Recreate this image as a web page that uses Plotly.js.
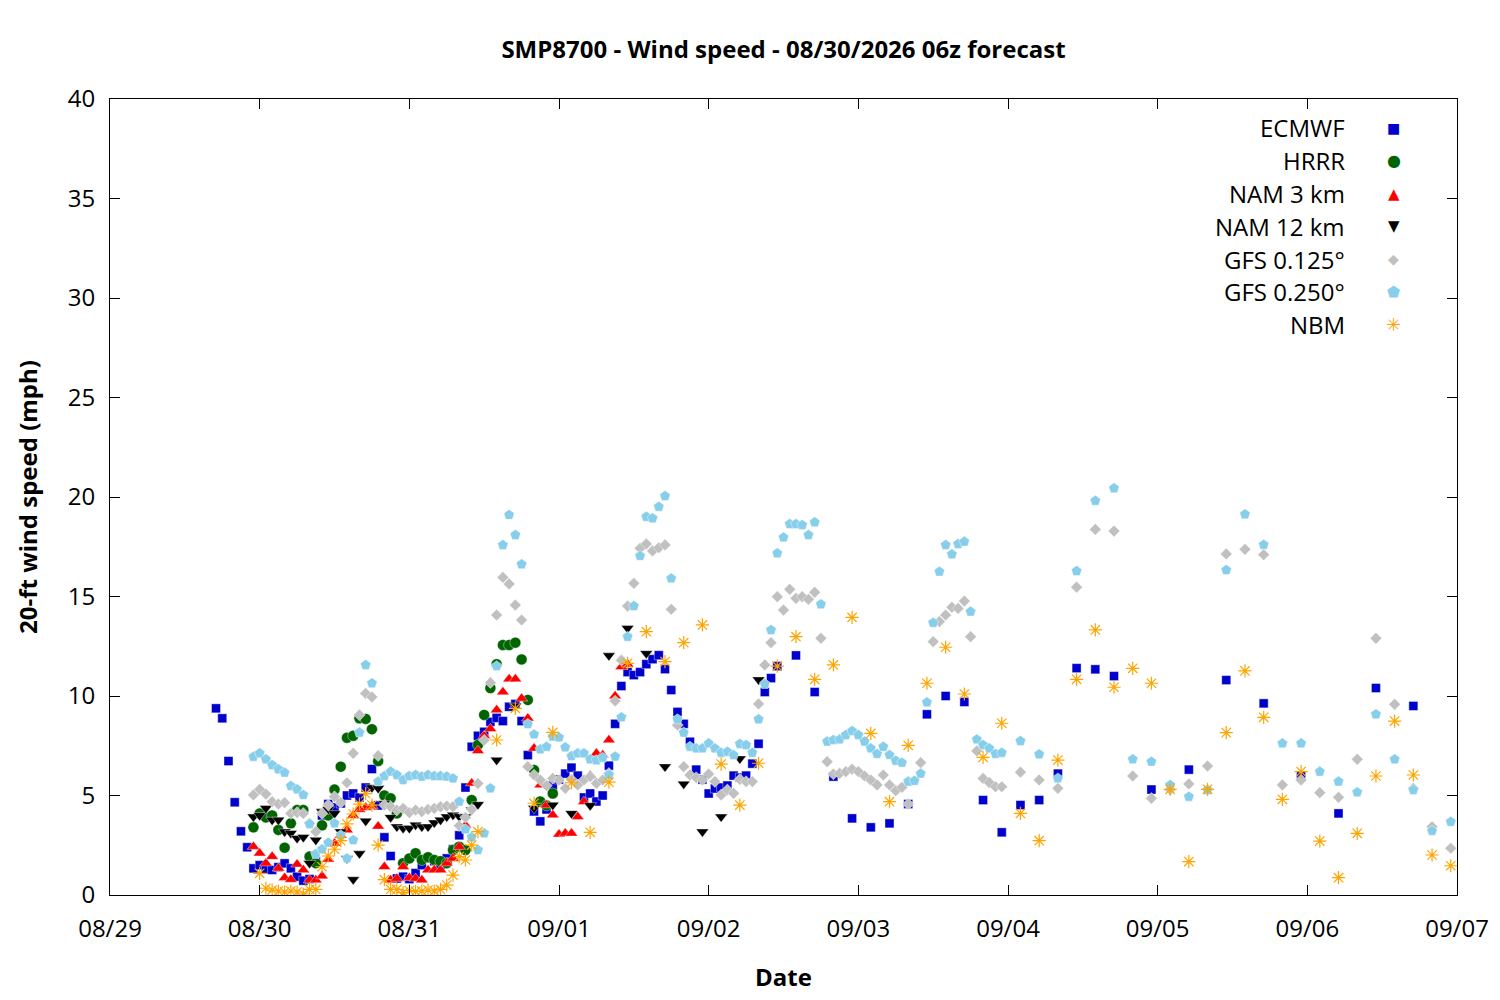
<!DOCTYPE html>
<html>
<head>
<meta charset="utf-8">
<script src="https://cdn.plot.ly/plotly-3.0.1.min.js"></script>
<style>
  body { margin: 0; background: #fff; }
  #graph { width: 1500px; height: 1000px; }
</style>
</head>
<body>
<div id="graph"></div>
<script>
// hours after 08/29 00:00
var dayLabels = ["08/29","08/30","08/31","09/01","09/02","09/03","09/04","09/05","09/06","09/07"]
var dayTicks = [0,24,48,72,96,120,144,168,192,216]

var ecmwfHours = [17,18,19,20,21,22,23,24,25,26,27,28,29,30,31,32,33,34,35,36,37,38,39,40,41,42,43,44,45,46,47,48,49,50,
  51,52,53,54,55,56,57,58,59,60,61,62,63,64,65,66,67,68,69,70,71,72,73,74,75,76,77,78,79,80,81,82,83,84,85,86,87,88,89,90,
  91,92,93,94,95,96,97,98,99,100,101,102,103,104,105,106,107,
  110,113,116,119,122,125,128,131,134,137,140,143,146,149,152,155,158,161,167,173,179,185,191,197,203,209]
var ecmwfSpeed = [9.38,8.88,6.73,4.66,3.2,2.4,1.34,1.5,1.3,1.26,1.4,1.59,1.34,0.92,0.72,0.8,1.7,4.0,4.57,4.4,4.6,5.0,5.1,4.9,
  5.4,6.33,4.5,2.9,1.96,0.83,0.92,0.8,1.1,1.5,1.84,1.7,1.5,1.84,2.3,3.0,5.4,7.45,8.0,8.2,8.7,8.9,8.74,9.46,9.6,8.74,7.03,
  4.2,3.7,4.3,5.5,5.8,6.1,6.4,6.0,4.9,5.1,4.7,5.0,6.5,8.6,10.5,11.2,11.05,11.2,11.6,11.85,12.05,11.35,10.3,9.2,8.6,7.7,
  6.3,5.8,5.1,5.35,5.4,5.5,6.0,5.9,6.0,6.6,7.6,10.2,10.9,11.5,
  12.04,10.2,5.95,3.85,3.4,3.6,4.57,9.08,10.0,9.7,4.77,3.15,4.52,4.77,6.1,11.4,11.34,11.0,5.3,6.3,10.8,9.63,6.0,4.1,10.4,9.5]

var hrrrHours = [23,24,25,26,27,28,29,30,31,32,33,34,35,36,37,38,39,40,41,42,43,44,45,46,47,48,49,50,51,52,53,54,55,56,57,
  58,59,60,61,62,63,64,65,66,67,68,69,70,71]
var hrrrSpeed = [3.4,4.1,3.9,4.0,3.27,2.38,3.6,4.27,4.27,1.93,1.6,3.5,4.0,5.3,6.45,7.9,8.0,8.88,8.85,8.33,6.73,5.0,4.86,4.1,
  1.6,1.84,2.1,1.76,1.9,1.76,1.7,1.6,2.26,2.43,2.26,4.77,7.54,9.05,10.4,11.6,12.56,12.56,12.68,11.84,9.8,6.28,4.7,4.5,5.1]

var nam3Hours = [23,24,25,26,27,28,29,30,31,32,33,34,35,36,37,38,39,40,41,42,43,44,45,46,47,48,49,50,51,52,53,54,55,56,57,
  58,59,60,61,62,63,64,65,66,67,68,69,70,71,72,73,74,75,76,77,78,79,80,81,82,83]
var nam3Speed = [2.43,2.1,1.6,1.93,1.34,0.87,0.78,1.54,1.26,0.75,0.75,0.95,1.8,2.6,3.0,3.27,4.0,4.3,4.4,4.47,3.45,1.42,0.75,
  0.83,1.42,0.87,0.83,0.75,1.26,1.26,1.26,1.6,1.84,2.43,3.5,5.62,7.25,8.0,8.35,9.3,10.2,10.85,10.85,9.88,8.88,7.37,5.53,
  4.52,4.02,3.05,3.1,3.1,3.93,4.69,6.0,7.12,7.03,7.79,10.0,11.47,11.6]

var nam12Hours = [23,24,25,26,27,28,29,30,31,32,33,34,35,36,37,38,39,40,41,42,43,44,45,46,47,48,49,50,51,52,53,54,55,56,57,
  58,59,62,65,68,71,74,77,80,83,86,89,92,95,98,101,104]
var nam12Speed = [3.93,4.0,4.36,3.77,3.77,3.18,3.1,2.85,2.9,1.6,2.76,4.19,4.3,4.1,3.18,1.84,0.78,2.08,3.72,5.4,5.36,4.6,3.9,
  3.43,3.35,3.35,3.52,3.43,3.43,3.63,3.77,3.93,4.02,3.95,3.93,4.27,4.55,6.78,9.5,4.36,4.52,4.1,4.5,12.03,13.4,12.14,6.45,
  5.58,3.18,3.93,6.85,10.82]

var gfs125Hours = [23,24,25,26,27,28,29,30,31,32,33,34,35,36,37,38,39,40,41,42,43,44,45,46,47,48,49,50,51,52,53,54,55,56,
  57,58,59,60,61,62,63,64,65,66,67,68,69,70,71,72,73,74,75,76,77,78,79,80,81,82,83,84,85,86,87,88,89,90,91,92,93,94,95,96,
  97,98,99,100,101,102,103,104,105,106,107,108,109,110,111,112,113,114,115,116,117,118,119,120,121,122,123,124,125,126,127,128,
  130,132,133,134,135,136,137,138,139,140,141,142,143,
  146,149,152,155,158,161,164,167,170,173,176,179,182,185,188,191,194,197,200,203,206,209,212,215]
var gfs125Speed = [5.03,5.31,5.07,4.69,4.57,4.64,4.1,4.14,4.1,3.6,3.18,4.1,4.52,4.94,4.64,5.64,7.12,9.05,10.13,9.95,7.0,4.52,
  4.44,4.27,4.35,4.14,4.27,4.19,4.3,4.35,4.44,4.47,4.44,3.48,3.9,4.3,5.6,7.78,10.67,14.07,15.96,15.63,14.57,13.82,6.45,6.03,
  5.78,5.5,5.86,5.78,5.36,5.8,5.53,5.78,5.95,5.61,5.78,6.11,9.75,11.8,14.52,15.66,17.42,17.64,17.29,17.45,17.59,14.36,8.54,
  6.45,6.03,5.9,5.78,6.08,5.7,5.03,5.28,5.11,5.81,5.7,5.7,9.6,11.56,12.68,14.99,14.32,15.36,14.91,14.99,14.86,15.21,12.9,
  6.7,6.08,6.11,6.2,6.32,6.2,5.98,5.78,5.53,6.03,5.53,5.24,5.41,4.57,
  6.65,12.73,13.74,14.07,14.46,14.4,14.77,12.98,7.24,5.86,5.65,5.44,5.44,
  6.17,5.78,5.36,15.47,18.37,18.29,5.98,4.86,5.3,5.58,6.48,17.14,17.37,17.1,5.53,5.78,5.14,4.91,6.82,12.9,9.58,5.36,3.43,2.35]

var gfs250Hours = [23,24,25,26,27,28,29,30,31,32,33,34,35,36,37,38,39,40,41,42,43,44,45,46,47,48,49,50,51,52,53,54,55,56,
  57,58,59,60,61,62,63,64,65,66,67,68,69,70,71,72,73,74,75,76,77,78,79,80,81,82,83,84,85,86,87,88,89,90,91,92,93,94,95,96,
  97,98,99,100,101,102,103,104,105,106,107,108,109,110,111,112,113,114,115,116,117,118,119,120,121,122,123,124,125,126,127,128,
  129,130,131,132,133,134,135,136,137,138,139,140,141,142,143,
  146,149,152,155,158,161,164,167,170,173,176,179,182,185,188,191,194,197,200,203,206,209,212,215]
var gfs250Speed = [6.95,7.12,6.82,6.53,6.32,6.15,5.48,5.31,5.03,3.57,2.06,2.3,2.63,3.6,3.0,1.84,2.76,8.16,11.56,10.64,5.7,
  5.98,6.2,6.03,5.78,5.98,6.03,5.95,6.03,5.98,5.98,5.95,5.86,4.69,3.3,2.9,2.26,3.1,5.36,11.5,17.59,19.1,18.09,16.62,8.59,
  8.07,7.32,7.45,7.96,7.92,7.42,6.98,7.12,7.12,6.82,6.77,6.9,6.03,6.96,8.93,12.98,14.52,17.04,19.01,18.93,19.51,20.05,
  15.91,8.83,8.16,7.45,7.37,7.37,7.62,7.37,7.15,7.2,7.03,7.59,7.54,7.15,8.83,10.6,13.32,17.17,17.97,18.64,18.64,18.59,
  18.09,18.73,14.61,7.71,7.79,7.82,8.04,8.24,8.04,7.71,7.37,7.09,7.45,7.04,6.75,6.65,5.7,
  5.74,6.1,9.68,13.68,16.25,17.59,17.12,17.64,17.76,14.24,7.82,7.54,7.37,7.09,7.15,
  7.74,7.07,5.86,16.28,19.81,20.44,6.82,6.7,5.53,4.94,5.28,16.33,19.13,17.6,7.62,7.62,6.2,5.7,5.16,9.08,6.82,5.28,3.22,3.68]

var nbmHours = [24,25,26,27,28,29,30,31,32,33,34,35,36,37,38,39,40,41,42,43,44,45,46,47,48,49,50,51,52,53,54,55,56,57,58,59,
  62,65,68,71,74,77,80,83,86,89,92,95,98,101,104,107,110,113,116,119,122,125,128,131,134,137,140,143,146,149,152,155,158,
  161,164,167,170,173,176,179,182,185,188,191,194,197,200,203,206,209,212,215]
var nbmSpeed = [1.09,0.34,0.25,0.2,0.15,0.2,0.15,0.05,0.28,0.28,1.42,1.96,2.3,2.73,3.57,4.07,4.57,5.09,4.52,2.51,0.77,0.28,
  0.28,0.12,0.22,0.18,0.2,0.25,0.2,0.28,0.5,1.0,1.93,1.76,2.51,3.18,
  7.79,9.38,4.61,8.17,5.64,3.15,5.67,11.64,13.23,11.73,12.68,13.57,6.58,4.52,6.62,11.5,12.98,10.84,11.56,13.95,8.12,4.69,
  7.52,10.64,12.45,10.1,6.92,8.63,4.1,2.73,6.78,10.84,13.32,10.44,11.39,10.64,5.31,1.68,5.31,8.16,11.26,8.93,4.81,6.2,
  2.71,0.87,3.1,5.98,8.74,6.03,2.01,1.47]

var models = [
  {name:"ECMWF", x:ecmwfHours, y:ecmwfSpeed, symbol:"square", color:"#0000cc", size:9, key:"\u25A0", ks:14},
  {name:"HRRR", x:hrrrHours, y:hrrrSpeed, symbol:"circle", color:"#006400", size:11, key:"\u25CF", ks:16},
  {name:"NAM 3 km", x:nam3Hours, y:nam3Speed, symbol:"triangle-up", color:"#ff0000", size:11, key:"\u25B2", ks:15},
  {name:"NAM 12 km", x:nam12Hours, y:nam12Speed, symbol:"triangle-down", color:"#000000", size:11, key:"\u25BC", ks:15},
  {name:"GFS 0.125\u00B0", x:gfs125Hours, y:gfs125Speed, symbol:"diamond", color:"#c0c0c0", size:9, key:"\u25C6", ks:14},
  {name:"GFS 0.250\u00B0", x:gfs250Hours, y:gfs250Speed, symbol:"pentagon", color:"#87ceeb", size:11, key:"\u2B1F", ks:15},
  {name:"NBM", x:nbmHours, y:nbmSpeed, symbol:"asterisk-open", color:"#ffa500", size:11, key:"\u2733", ks:18}
]

var font = "Open Sans, Noto Sans, sans-serif"
var graphData = []
var notes = []

for (var i = 0; i < models.length; i++) {
  var m = models[i]
  var mk = {symbol:m.symbol, size:m.size, color:m.color}
  if (m.symbol == "asterisk-open") {
    mk.line = {color:m.color, width:1.2}
  } else {
    mk.line = {color:"#ffffff", width:0.4}
  }
  graphData.push({x:m.x, y:m.y, type:"scatter", mode:"markers", name:m.name, marker:mk, hoverinfo:"x+y+name"})

  // gnuplot style key: text on the left, sample on the right
  var ky = 0.9636 - i*0.0412
  notes.push({xref:"paper", yref:"paper", x:0.9183, y:ky, xanchor:"right", yanchor:"middle",
    text:m.name, showarrow:false, font:{family:font, size:24, color:"#000"}})
  notes.push({xref:"paper", yref:"paper", x:0.9532, y:ky, xanchor:"center", yanchor:"middle",
    text:m.key, showarrow:false, font:{family:"DejaVu Sans", size:m.ks, color:m.color}})
}

var layout = {
  width:1500, height:1000,
  margin:{l:110, r:43, t:99, b:105},
  paper_bgcolor:"#fff", plot_bgcolor:"#fff",
  showlegend:false,
  font:{family:font, size:24, color:"#000"},
  title:{text:"<b>SMP8700 - Wind speed - 08/30/2026 06z forecast</b>", x:0.5, xref:"paper",
    y:0.95, yref:"container", yanchor:"middle", font:{family:font, size:24}},
  xaxis:{range:[0,216], tickvals:dayTicks, ticktext:dayLabels, ticks:"inside", ticklen:10,
    tickcolor:"#000", showline:true, linecolor:"#000", linewidth:1, mirror:"ticks",
    showgrid:false, zeroline:false, ticklabelstandoff:12,
    title:{text:"<b>Date</b>", standoff:26, font:{family:font, size:24}}},
  yaxis:{range:[0,40], dtick:5, ticks:"inside", ticklen:10, tickcolor:"#000",
    showline:true, linecolor:"#000", linewidth:1, mirror:"ticks",
    showgrid:false, zeroline:false, ticklabelstandoff:9,
    title:{text:"<b>20-ft wind speed (mph)</b>", standoff:23, font:{family:font, size:24}}},
  annotations:notes
}

Plotly.newPlot("graph", graphData, layout, {displayModeBar:false, staticPlot:true})
</script>
</body>
</html>
